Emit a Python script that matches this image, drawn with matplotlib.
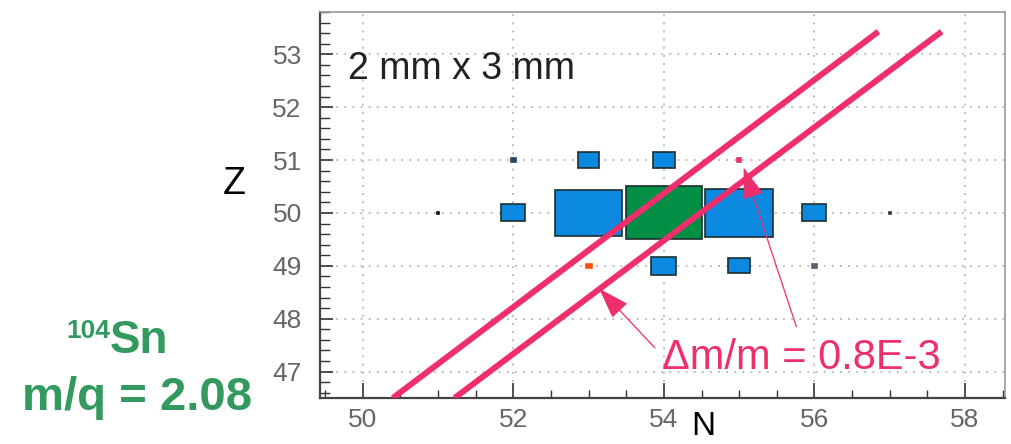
import matplotlib.pyplot as plt
from matplotlib.patches import Rectangle

# cells of the N-Z box histogram (box side relative to the largest cell)
cell_n = [54, 53, 55, 52, 56, 53, 54, 54, 55, 52, 55, 53, 56, 51, 57]
cell_z = [50, 50, 50, 50, 50, 51, 51, 49, 49, 51, 51, 49, 49, 50, 50]
cell_size = [1.0, 0.88, 0.90, 0.32, 0.32, 0.29, 0.30, 0.33, 0.29,
             0.07, 0.06, 0.08, 0.07, 0.03, 0.03]
cell_color = ['#008f45', '#0b88e0', '#0b88e0', '#0b88e0', '#0b88e0',
              '#0b88e0', '#0b88e0', '#0b88e0', '#0b88e0',
              '#1f4a6a', '#ee2f6c', '#ff5010', '#556070', '#111111', '#333333']

# iso m/q lines (start / end points in N, Z)
line1_n = [50.40, 56.85]
line1_z = [46.50, 53.43]
line2_n = [51.22, 57.69]
line2_z = [46.50, 53.43]

# annotation arrows: (tail, tip)
arrow_tails = [(53.88, 47.45), (55.76, 47.85)]
arrow_tips = [(53.14, 48.57), (55.06, 50.86)]

x_ticks = [50, 52, 54, 56, 58]
y_ticks = [47, 48, 49, 50, 51, 52, 53]

pink = '#ee2f6c'
green = '#33995f'
plt.rcParams['font.family'] = ['Liberation Sans', 'DejaVu Sans']

fig = plt.figure(figsize=(10.12, 4.44), dpi=100)
ax = fig.add_axes([0.316, 0.1036, 0.677, 0.8694])

ax.set_xlim(49.43, 58.53)
ax.set_ylim(46.5, 53.47)
ax.set_xticks(x_ticks)
ax.set_yticks(y_ticks)
ax.set_xticks([x + 0.5 * k for x in x_ticks[:-1] for k in range(1, 4)] + [49.5, 58.5], minor=True)
ax.set_yticks([46.6, 46.8] + [y + 0.2 * k for y in y_ticks for k in range(1, 5)], minor=True)
ax.tick_params(which='both', direction='in', colors='#333333', labelcolor='#666666',
               labelsize=19, top=False, right=False)
ax.tick_params(axis='x', which='major', length=11, width=1.2, pad=7)
ax.tick_params(axis='x', which='minor', length=6, width=1.0)
ax.tick_params(axis='y', which='major', length=9, width=1.2, pad=13)
ax.tick_params(axis='y', which='minor', length=7, width=1.0)
ax.grid(True, which='major', color='#b5b5b5', linestyle=(0, (1, 3.5)), linewidth=1.3)
ax.set_axisbelow(True)

for side in ['left', 'bottom']:
    ax.spines[side].set_color('#444444')
    ax.spines[side].set_linewidth(1.6)
for side in ['top', 'right']:
    ax.spines[side].set_color('#999999')
    ax.spines[side].set_linewidth(1.2)

for n, z, s, c in zip(cell_n, cell_z, cell_size, cell_color):
    ax.add_patch(Rectangle((n - s / 2, z - s / 2), s, s, facecolor=c,
                           edgecolor='#1c2e2e' if s > 0.2 else c, linewidth=1.2, zorder=2))

ax.plot(line1_n, line1_z, color=pink, linewidth=4.3, solid_capstyle='butt', zorder=3)
ax.plot(line2_n, line2_z, color=pink, linewidth=4.3, solid_capstyle='butt', zorder=3)

for tail, tip in zip(arrow_tails, arrow_tips):
    ax.annotate('', xy=tip, xytext=tail, zorder=4,
                arrowprops=dict(arrowstyle='-|>,head_length=0.9,head_width=0.3',
                                color=pink, lw=0.9, mutation_scale=22, shrinkA=0, shrinkB=0))

ax.text(53.97, 47.05, '\u0394m/m = 0.8E-3', color=pink, fontsize=30, va='baseline', zorder=5)
ax.text(49.81, 52.53, '2 mm x 3 mm', color='#222222', fontsize=27, va='baseline')

fig.text(234 / 1012, 1 - 184 / 444, 'Z', fontsize=27, ha='center', va='center')
fig.text(703 / 1012, 2 / 444, 'N', fontsize=24, ha='center', va='bottom')

fig.text(110 / 1012, 1 - 338 / 444, '104', fontsize=19, fontweight='bold', color=green,
         ha='right', va='baseline')
fig.text(110 / 1012, 1 - 353 / 444, 'Sn', fontsize=33, fontweight='bold', color=green,
         ha='left', va='baseline')
fig.text(137 / 1012, 1 - 410 / 444, 'm/q = 2.08', fontsize=34, fontweight='bold', color=green,
         ha='center', va='baseline')

fig.savefig('out.png', dpi=100)
